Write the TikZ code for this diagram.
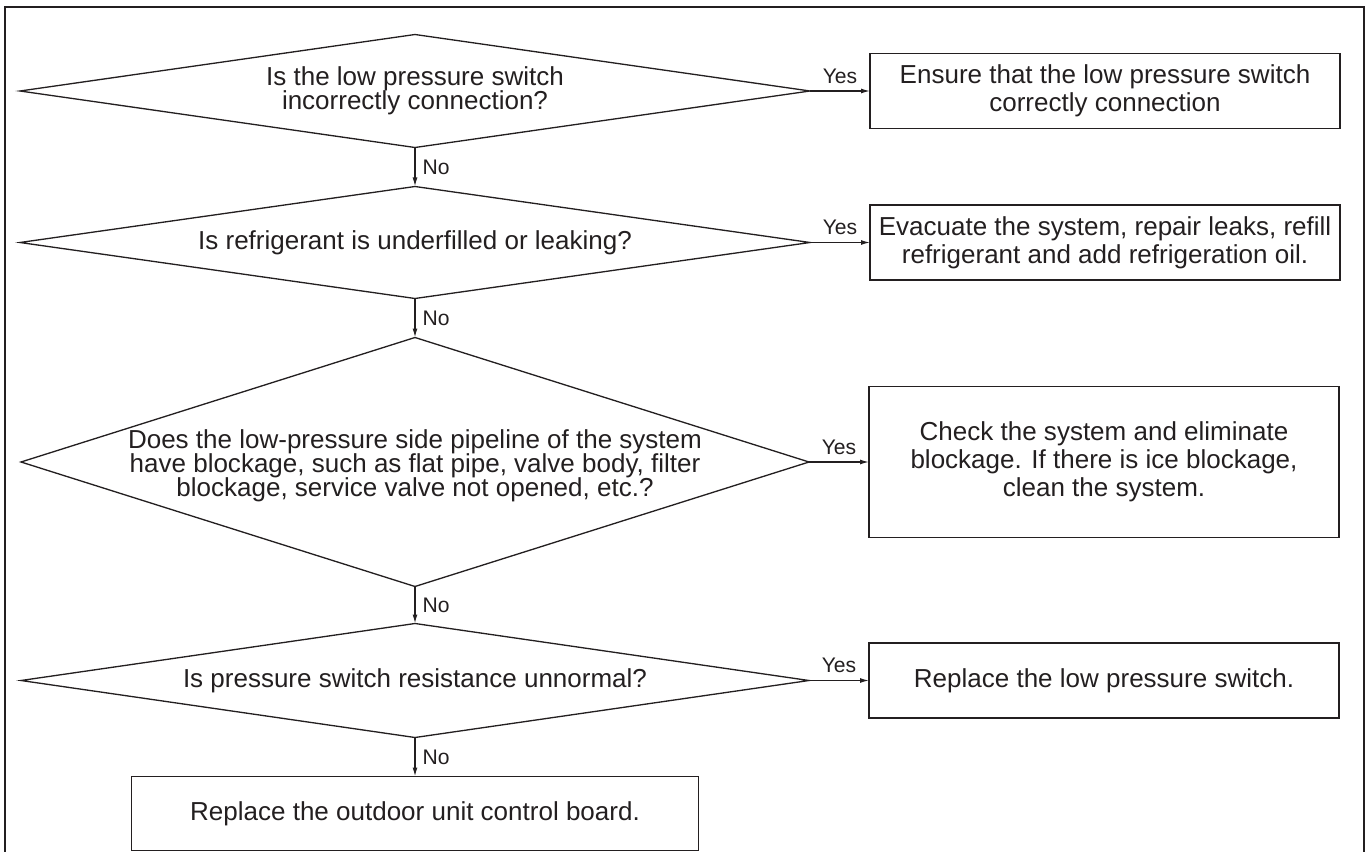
\documentclass[tikz,border=0pt]{standalone}
\usepackage{fontspec}
\setmainfont{Liberation Sans}
\usepackage{tikz}
\usetikzlibrary{shapes.geometric, arrows.meta, positioning}
\definecolor{tinta}{RGB}{35,31,32}
\lineskiplimit=-20pt

\begin{document}
\begin{tikzpicture}[
			node distance=0.78cm and 1.2cm,
			tanya/.style={draw=tinta, diamond, minimum width=15.8cm, minimum height=2.26cm, inner sep=0pt, outer sep=0pt, line width=0.75pt},
			teks/.style={align=center, text=tinta, inner sep=0pt, font=\fontsize{14.8}{13.7}\selectfont},
			blok/.style={draw=tinta, rectangle, minimum width=9.4cm, minimum height=1.5cm, inner xsep=3pt, outer sep=0pt, align=center, text=tinta, font=\fontsize{14.8}{15.9}\selectfont, line width=0.85pt},
			panah/.style={-{Latex[length=1.8mm, width=1mm]}, draw=tinta, line width=0.75pt},
			ket/.style={text=tinta, font=\fontsize{12}{12}\selectfont, inner sep=4pt}
		]
		\useasboundingbox (0,0) rectangle (27.4,-17.04);
		% Bingkai luar
		\draw[tinta, line width=1.1pt] (0.1,-17.04) -- (0.1,-0.14) -- (27.28,-0.14) -- (27.28,-17.04);

		% Node Pertanyaan (Kiri)
		\node[tanya, label={[teks]center:Is the low pressure switch\\incorrectly connection?}] (cek1) at (8.3,-1.82) {};
		\node[tanya, below=of cek1, minimum height=2.24cm, label={[teks]center:Is refrigerant is underfilled or leaking?}] (cek2) {};
		\node[tanya, below=of cek2, minimum width=15.76cm, minimum height=4.98cm, label={[teks, yshift=-0.08cm]center:Does the low-pressure side pipeline of the system\\have blockage, such as flat pipe, valve body, filter\\blockage, service valve not opened, etc.?}] (cek3) {};
		\node[tanya, below=0.74cm of cek3, minimum width=15.76cm, minimum height=2.28cm, label={[teks]center:Is pressure switch resistance unnormal?}] (cek4) {};
		\node[blok, below=of cek4, minimum width=11.34cm, minimum height=1.48cm] (papan) {Replace the outdoor unit control board.};

		% Node Tindakan (Kanan)
		\node[blok, right=of cek1] (sambung) {Ensure that the low pressure switch\\correctly connection};
		\node[blok, right=of cek2] (isi) {Evacuate the system, repair leaks, refill\\refrigerant and add refrigeration oil.};
		\node[blok, right=of cek3, minimum height=3.02cm] (sumbat) {Check the system and eliminate\\blockage. If there is ice blockage,\\clean the system.};
		\node[blok, right=of cek4] (saklar) {Replace the low pressure switch.};

		% Garis Yes
		\draw[panah] (cek1.east) -- node[ket, above] {Yes} (sambung.west);
		\draw[panah] (cek2.east) -- node[ket, above] {Yes} (isi.west);
		\draw[panah] (cek3.east) -- node[ket, above] {Yes} (sumbat.west);
		\draw[panah] (cek4.east) -- node[ket, above] {Yes} (saklar.west);

		% Garis No
		\draw[panah] (cek1.south) -- node[ket, right] {No} (cek2.north);
		\draw[panah] (cek2.south) -- node[ket, right] {No} (cek3.north);
		\draw[panah] (cek3.south) -- node[ket, right] {No} (cek4.north);
		\draw[panah] (cek4.south) -- node[ket, right] {No} (papan.north);
	\end{tikzpicture}
\end{document}
